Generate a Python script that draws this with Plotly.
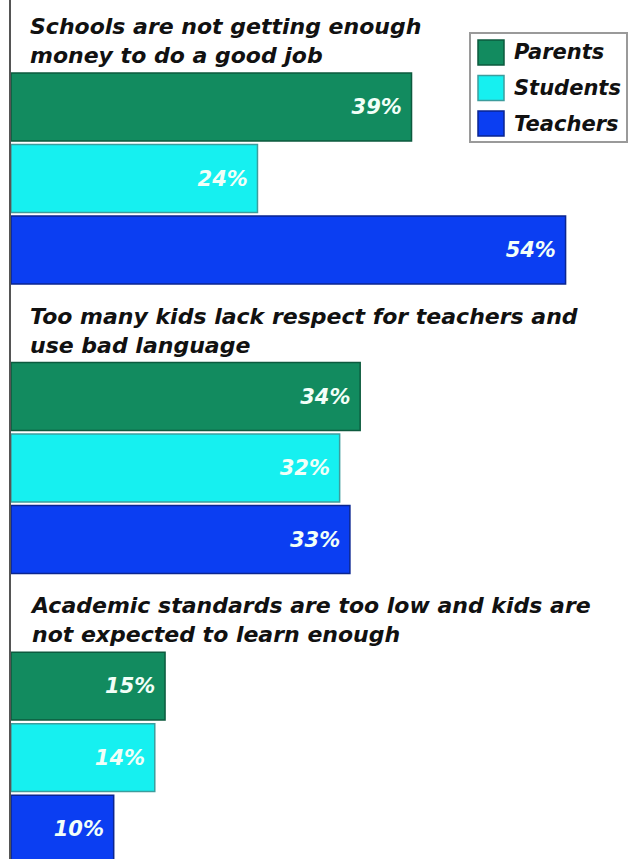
import plotly.graph_objects as go

# Survey answers: share of each group naming the problem (%)
questions = [
    "Schools are not getting enough<br>money to do a good job",
    "Too many kids lack respect for teachers and<br>use bad language",
    "Academic standards are too low and kids are<br>not expected to learn enough",
]
series = ["Parents", "Students", "Teachers"]
parents = [39, 34, 15]
students = [24, 32, 14]
teachers = [54, 33, 10]

fills = ["#128b5f", "#16f0f0", "#0b3ef2"]
edges = ["#0c5a3e", "#3c9d9d", "#0a2590"]

W, H = 628, 859
ML = 11
GROUP_STEP = 4.05  # slots per question block (3 bars + heading space)

values = [parents, students, teachers]
font_face = "DejaVu Sans"

fig = go.Figure()
for s, name in enumerate(series):
    ys = [g * GROUP_STEP + s for g in range(len(questions))]
    fig.add_trace(go.Bar(
        x=values[s], y=ys, orientation="h", name=name,
        width=0.95,
        marker=dict(color=fills[s], line=dict(color=edges[s], width=1.5)),
        text=[f"<b><i>{v}%</i></b>\u00a0" for v in values[s]],
        textposition="inside", insidetextanchor="end",
        textfont=dict(family=font_face, size=21, color="#f2fff8"),
        constraintext="none",
        showlegend=False, hoverinfo="skip",
    ))

# question headings above each block
for g, q in enumerate(questions):
    fig.add_annotation(
        xref="paper", x=0, xshift=17, xanchor="left",
        yref="y", y=g * GROUP_STEP - 0.5, yanchor="bottom", yshift=1,
        text=f"<b><i>{q}</i></b>", align="left", showarrow=False,
        font=dict(family=font_face, size=22, color="#111111"),
    )

# legend box with square swatches
def px_x(p):
    return (p - ML) / (W - ML)

def px_y(p):
    return 1 - p / H

fig.add_shape(type="rect", xref="paper", yref="paper",
              x0=px_x(470), x1=px_x(627), y0=px_y(142), y1=px_y(33),
              line=dict(color="#9a9a9a", width=2), fillcolor="white")
for s, name in enumerate(series):
    top = 40 + s * 35.5
    fig.add_shape(type="rect", xref="paper", yref="paper",
                  x0=px_x(478), x1=px_x(504), y0=px_y(top + 25), y1=px_y(top),
                  line=dict(color=edges[s], width=1.5), fillcolor=fills[s])
    fig.add_annotation(
        xref="paper", yref="paper", x=px_x(512), y=px_y(top + 12.5),
        xanchor="left", yanchor="middle", showarrow=False,
        text=f"<b><i>{name}</i></b>",
        font=dict(family=font_face, size=21, color="#111111"),
    )

slot_px = 71.5
first_center = 107
fig.update_layout(
    width=W, height=H,
    margin=dict(l=ML, r=0, t=0, b=0),
    paper_bgcolor="white", plot_bgcolor="white",
    barmode="overlay",
    xaxis=dict(range=[0, (W - ML) / 10.27], visible=False, fixedrange=True),
    yaxis=dict(range=[(H - first_center) / slot_px, -first_center / slot_px],
               showticklabels=False, showgrid=False, zeroline=False,
               showline=True, linecolor="#555555", linewidth=2,
               ticks="", fixedrange=True),
)

fig.write_html("out.html")
